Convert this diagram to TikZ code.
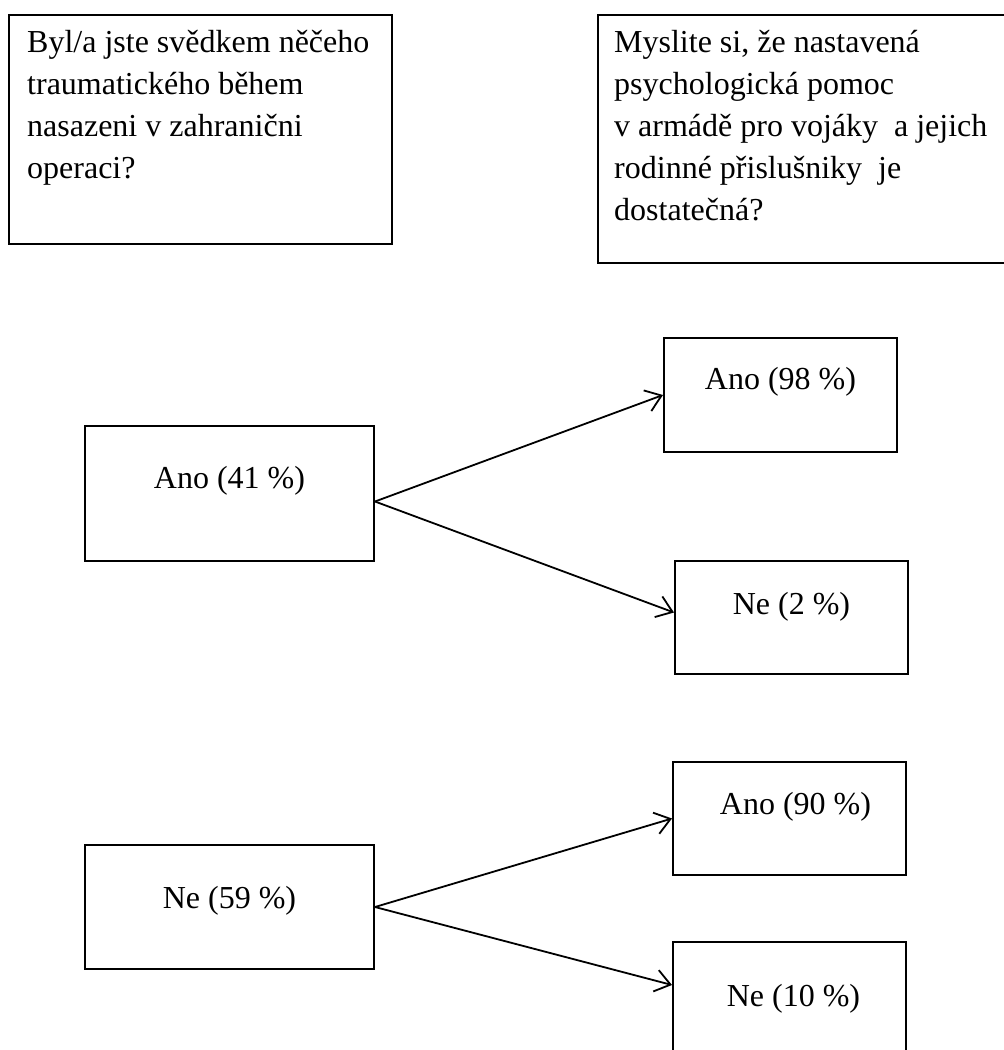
\documentclass[tikz,border=0pt]{standalone}
\usepackage{fontspec}
\setmainfont{Liberation Serif}
\usetikzlibrary{arrows.meta,positioning,calc}
\tikzset{
    block/.style = {draw, rectangle, line width=2pt, inner sep=0pt},
    answer/.style = {block, minimum width=233pt, minimum height=113pt},
    txt/.style = {inner sep=0pt},
    qtext/.style = {align=left, inner sep=0pt, anchor=north west},
    arrow/.style = {draw, ->, line width=1.8pt}
}

\begin{document}
\begin{tikzpicture}[x=1pt, y=-1pt, >={Straight Barb[length=15pt,width=22pt]}, font=\fontsize{32}{42}\selectfont]
    \useasboundingbox (0,0) rectangle (1004,1050);
    % questions
    \node [block, minimum width=383pt, minimum height=229pt] (q1) at (200.5,129.5) {};
    \node [qtext] (q1t) at ([xshift=19pt,yshift=-16pt]q1.north west) {Byl/a jste svědkem něčeho\\traumatického během\\nasazeni v zahranični\\operaci?};
    \node [block, minimum width=416pt, minimum height=248pt] (q2) at (806,139) {};
    \node [qtext] (q2t) at ([xshift=17pt,yshift=-16pt]q2.north west) {Myslite si, že nastavená\\psychologická pomoc\\v armádě pro vojáky\ \ a jejich\\rodinné přislušniky\ \ je\\dostatečná?};
    % first answers
    \node [block, minimum width=289pt, minimum height=135pt] (ano41) at (229.5,493.5) {};
    \node [txt] (ano41t) at ([yshift=-56pt]ano41.north) {Ano (41 \%)};
    \node [block, minimum width=289pt, minimum height=124pt] (ne59) at (229.5,907) {};
    \node [txt] (ne59t) at ([yshift=-57pt]ne59.north) {Ne (59 \%)};
    % second answers
    \node [answer, minimum height=114pt] (ano98) at (780.5,395) {};
    \node [txt] (ano98t) at ([yshift=-45pt]ano98.north) {Ano (98 \%)};
    \node [answer] (ne2) at (791.5,617.5) {};
    \node [txt] (ne2t) at ([yshift=-47pt]ne2.north) {Ne (2 \%)};
    \node [answer] (ano90) at (789.5,818.5) {};
    \node [txt] (ano90t) at ([xshift=6pt,yshift=-46pt]ano90.north) {Ano (90 \%)};
    \node [answer, minimum height=130pt] (ne10) at (789.5,1007) {};
    \node [txt] (ne10t) at ([xshift=4pt,yshift=-58pt]ne10.north) {Ne (10 \%)};
    % arrows
    \draw [arrow] ([yshift=-8pt]ano41.east) -- (ano98.west);
    \draw [arrow] ([yshift=-8pt]ano41.east) -- ([yshift=5pt]ne2.west);
    \draw [arrow] (ne59.east) -- (ano90.west);
    \draw [arrow] (ne59.east) -- ([yshift=22pt]ne10.west);
\end{tikzpicture}
\end{document}
